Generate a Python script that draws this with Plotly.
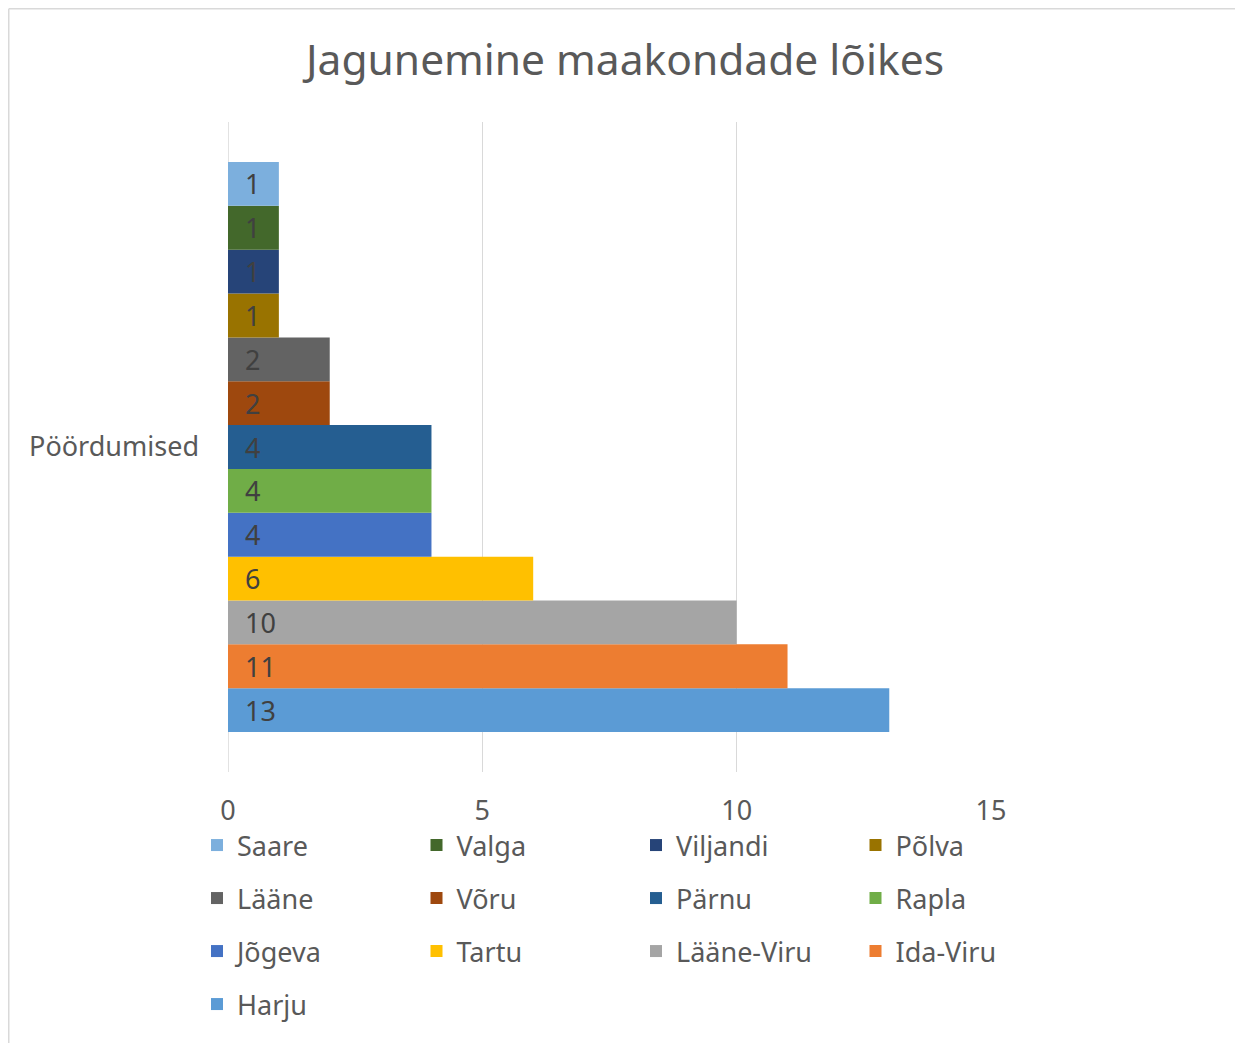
import plotly.graph_objects as go

category = "Pöördumised"
counties = ["Saare", "Valga", "Viljandi", "Põlva", "Lääne", "Võru", "Pärnu",
            "Rapla", "Jõgeva", "Tartu", "Lääne-Viru", "Ida-Viru", "Harju"]
values = [1, 1, 1, 1, 2, 2, 4, 4, 4, 6, 10, 11, 13]
colors = ["#7CAFDD", "#43682B", "#264478", "#997300", "#636363", "#9E480E", "#255E91",
          "#70AD47", "#4472C4", "#FFC000", "#A5A5A5", "#ED7D31", "#5B9BD5"]
x_ticks = [0, 5, 10, 15]

FONT = "Noto Sans"
TXT = "#595959"
FS = 27

# page has an 8px body margin: work in figure coordinates
W, H = 1235, 1035
L, R, T, B = 220, 983, 114, 764


def legend_id(i):
    return "legend" if i == 0 else f"legend{i + 1}"


fig = go.Figure()
# Plotly stacks grouped horizontal bars bottom-up, so add in reverse order
items = list(zip(counties, values, colors))
for idx in range(len(items) - 1, -1, -1):
    name, val, col = items[idx]
    fig.add_trace(go.Bar(
        name=name, y=[category], x=[val], orientation="h",
        marker=dict(color=col, line=dict(width=0)),
        text=[val], texttemplate="\u00a0\u00a0%{x}",
        textposition="inside", insidetextanchor="start",
        constraintext="none",
        textfont=dict(family=FONT, size=FS, color="#404040"),
        hoverinfo="x+name",
        legend=legend_id(idx),
    ))

legend_layouts = {}
for i in range(len(counties)):
    r, c = divmod(i, 4)
    legend_layouts[legend_id(i)] = dict(
        orientation="h", xref="container", yref="container",
        xanchor="left", yanchor="top",
        x=(189 + 219.5 * c) / W, y=1 - (813 + 53 * r) / H,
        font=dict(family=FONT, size=FS, color=TXT),
        itemwidth=30, bgcolor="rgba(0,0,0,0)")

border_x = (0.75 - L) / (R - L)

fig.update_layout(
    width=W, height=H,
    barmode="group", bargap=0.123, bargroupgap=0,
    paper_bgcolor="white", plot_bgcolor="white",
    margin=dict(l=L, r=W - R, t=T, b=H - B, autoexpand=False),
    title=dict(text="Jagunemine maakondade lõikes", x=(625 - 8) / W, xref="container",
               xanchor="center", y=1 - 52 / H, yanchor="middle", yref="container",
               font=dict(family=FONT, size=42.5, color=TXT)),
    font=dict(family=FONT, color=TXT),
    xaxis=dict(range=[0, 15], tickvals=x_ticks, showgrid=True, gridcolor="#D9D9D9",
               gridwidth=1.3, zeroline=False, showline=False,
               tickfont=dict(family=FONT, size=FS, color=TXT),
               ticklabelstandoff=20, fixedrange=True),
    yaxis=dict(showgrid=False, zeroline=False, showline=False,
               tickfont=dict(family=FONT, size=FS, color=TXT),
               ticklabelstandoff=28, fixedrange=True),
    showlegend=True,
    shapes=[
        # y-axis line at 0
        dict(type="line", xref="x", yref="paper", x0=0, x1=0, y0=0, y1=1,
             line=dict(color="#D9D9D9", width=1.5), layer="below"),
        # chart area border (top and left edges)
        dict(type="line", xref="paper", yref="paper",
             x0=border_x, x1=(W + 10 - L) / (R - L),
             y0=(B - 0.75) / (B - T), y1=(B - 0.75) / (B - T),
             line=dict(color="#D9D9D9", width=1.5)),
        dict(type="line", xref="paper", yref="paper",
             x0=border_x, x1=border_x,
             y0=(B - 0.75) / (B - T), y1=(B - H - 10) / (B - T),
             line=dict(color="#D9D9D9", width=1.5)),
    ],
    **legend_layouts,
)

fig.write_html("out.html")
